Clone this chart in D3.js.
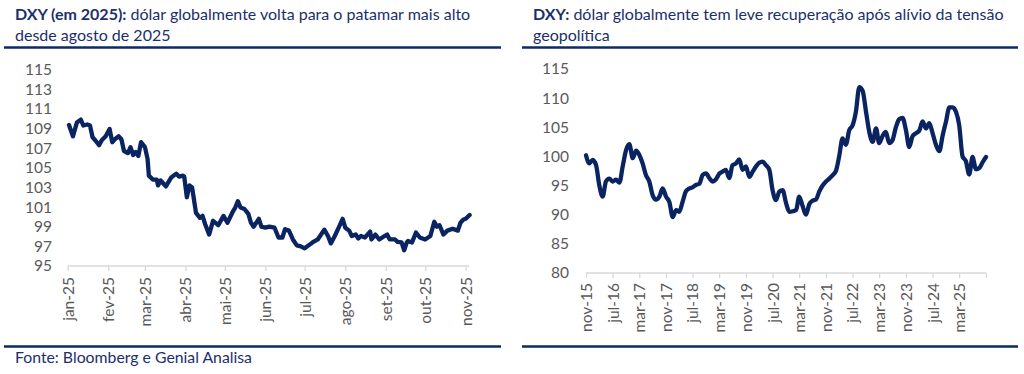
<!DOCTYPE html>
<html><head><meta charset="utf-8">
<script src="https://cdn.jsdelivr.net/npm/d3@7"></script>
<style>
html,body{margin:0;padding:0;background:#fff;}
svg{display:block;font-family:Lato,"Noto Sans",sans-serif;}
</style></head>
<body><svg id="c" width="1024" height="374"></svg>
<script>
// ---------- DATA ----------
const leftDates = ["2025-01-02","2025-01-05","2025-01-08","2025-01-11","2025-01-13","2025-01-16","2025-01-18","2025-01-20","2025-01-22","2025-01-25","2025-01-27","2025-01-30",
"2025-02-02","2025-02-04","2025-02-06","2025-02-09","2025-02-11","2025-02-13","2025-02-16","2025-02-18","2025-02-20","2025-02-22","2025-02-24","2025-02-26",
"2025-03-01","2025-03-03","2025-03-04","2025-03-07","2025-03-10","2025-03-11","2025-03-13","2025-03-17","2025-03-21","2025-03-25","2025-03-27","2025-03-30","2025-03-31",
"2025-04-02","2025-04-04","2025-04-06","2025-04-09","2025-04-12","2025-04-14","2025-04-16","2025-04-19","2025-04-22","2025-04-26","2025-04-30",
"2025-05-03","2025-05-07","2025-05-09","2025-05-11","2025-05-13","2025-05-16","2025-05-19","2025-05-21","2025-05-23","2025-05-27","2025-05-29",
"2025-06-01","2025-06-04","2025-06-08","2025-06-11","2025-06-14","2025-06-16","2025-06-19","2025-06-22","2025-06-25","2025-06-28",
"2025-07-01","2025-07-04","2025-07-07","2025-07-11","2025-07-15","2025-07-16","2025-07-19","2025-07-21","2025-07-24","2025-07-27","2025-07-30",
"2025-08-01","2025-08-04","2025-08-06","2025-08-09","2025-08-11","2025-08-13","2025-08-16","2025-08-20","2025-08-21","2025-08-24","2025-08-27","2025-08-31",
"2025-09-02","2025-09-04","2025-09-08","2025-09-10","2025-09-13","2025-09-15","2025-09-17","2025-09-18","2025-09-21","2025-09-24","2025-09-27",
"2025-10-01","2025-10-05","2025-10-08","2025-10-10","2025-10-12","2025-10-15","2025-10-18","2025-10-22","2025-10-26","2025-10-28","2025-10-30",
"2025-11-01","2025-11-04"];
const leftValues = [109.35,108.2,109.6,109.9,109.3,109.4,109.3,108.1,107.8,107.3,107.8,108.2,
108.95,107.6,107.9,108.2,107.9,106.7,106.5,107.1,106.3,106.6,106.2,107.6,
107.1,105.9,104.2,103.8,103.8,103.2,103.7,103.1,104.0,104.4,104.1,104.2,104.1,
102.0,103.2,103.0,100.4,99.9,100.1,99.25,98.2,99.6,99.15,100.1,
99.4,100.5,100.95,101.6,100.95,100.8,100.3,99.4,99.0,99.8,99.0,
98.9,99.0,98.9,97.9,97.9,98.75,98.6,97.7,97.1,97.0,
96.8,97.1,97.4,97.7,98.5,98.7,98.0,97.3,98.05,98.9,99.8,
98.9,98.6,98.05,98.2,97.8,98.05,97.9,98.5,97.7,98.2,97.7,98.05,
98.2,97.7,97.7,97.45,97.4,96.6,97.4,97.55,97.4,98.4,97.9,
97.7,98.05,99.5,99.0,99.15,98.2,98.6,98.8,98.6,99.4,99.7,
99.8,100.2];
const leftTickDates = ["2025-01-01","2025-02-01","2025-03-01","2025-04-01","2025-05-01","2025-06-01","2025-07-01","2025-08-01","2025-09-01","2025-10-01","2025-11-01"];
const leftTickLabels = ["jan-25","fev-25","mar-25","abr-25","mai-25","jun-25","jul-25","ago-25","set-25","out-25","nov-25"];
const leftYTicks = [95,97,99,101,103,105,107,109,111,113,115];

const rightStart = "2015-11-01"; // monthly series, first month nov-15
const rightValues = [100.2,98.8,99.4,98.5,95.1,93.1,95.7,96.2,95.7,96.0,95.5,98.3,
101.1,102.1,99.7,101.0,100.3,98.8,96.8,95.7,93.4,92.6,93.1,94.5,
93.1,92.2,89.6,90.8,90.5,92.2,94.0,94.5,94.7,95.1,95.3,96.8,
97.1,96.3,95.7,96.1,97.0,97.4,97.7,96.3,98.5,98.8,99.5,97.7,
98.3,96.5,97.4,98.3,98.9,99.1,98.5,97.7,94.2,92.5,94.0,94.2,
92.0,90.5,90.6,90.8,93.1,91.5,90.0,91.8,92.4,92.6,94.0,95.0,
95.7,96.2,96.8,97.6,100.0,103.1,102.0,104.5,105.3,107.7,111.9,111.3,
107.7,104.2,102.5,104.8,102.3,103.5,104.2,102.3,102.8,105.0,106.4,106.6,
104.5,101.6,103.5,104.0,104.4,106.0,104.8,105.7,104.0,102.0,100.9,103.6,
106.0,108.4,108.4,107.6,105.4,100.0,99.2,96.9,99.9,97.8,98.0,99.0,
99.9];
const rightTickDates = ["2015-11-01","2016-07-01","2017-03-01","2017-11-01","2018-07-01","2019-03-01","2019-11-01","2020-07-01","2021-03-01","2021-11-01","2022-07-01","2023-03-01","2023-11-01","2024-07-01","2025-03-01","2025-11-01"];
const rightTickLabels = ["nov-15","jul-16","mar-17","nov-17","jul-18","mar-19","nov-19","jul-20","mar-21","nov-21","jul-22","mar-23","nov-23","jul-24","mar-25",""];
const rightYTicks = [80,85,90,95,100,105,110,115];

const leftTitleBold = "DXY (em 2025):";
const leftTitleRest = " dólar globalmente volta para o patamar mais alto";
const leftTitleLine2 = "desde agosto de 2025";
const rightTitleBold = "DXY:";
const rightTitleRest = " dólar globalmente tem leve recuperação após alívio da tensão";
const rightTitleLine2 = "geopolítica";
const sourceText = "Fonte: Bloomberg e Genial Analisa";

// ---------- DRAW ----------
const parse = d3.utcParse("%Y-%m-%d");
const svg = d3.select("#c");
const NAVY = "#0b2a66", TITLE = "#1b2f6b", LINE = "#0a2461", GRAY = "#595959", AX = "#d9d9d9";

function panel(o){
  const g = svg.append("g");
  const t = g.append("text").attr("x", o.tx).attr("y", 20).attr("fill", TITLE).style("font-size","16px");
  t.append("tspan").attr("font-weight","bold").text(o.bold);
  t.append("tspan").text(o.rest);
  g.append("text").attr("x", o.tx).attr("y", 41).attr("fill", TITLE).style("font-size","16px").text(o.line2);
  g.append("line").attr("x1", o.r1).attr("x2", o.r2).attr("y1", 47.5).attr("y2", 47.5).attr("stroke", NAVY).attr("stroke-width", 2.4);
  g.append("line").attr("x1", o.r1).attr("x2", o.r2).attr("y1", 346.5).attr("y2", 346.5).attr("stroke", NAVY).attr("stroke-width", 2.4);

  const x = d3.scaleUtc().domain(o.xDomain).range(o.xRange);
  const y = d3.scaleLinear().domain(o.yDomain).range(o.yRange);

  const ya = g.append("g").attr("transform", `translate(${o.yLabelX},0)`)
    .call(d3.axisLeft(y).tickValues(o.yTicks).tickSize(0).tickPadding(0));
  ya.select(".domain").remove();
  ya.selectAll("text").attr("fill", GRAY).style("font-size","15.5px").style("font-family","Lato");

  const xa = g.append("g").attr("transform", `translate(0,${o.yRange[0]})`)
    .call(d3.axisBottom(x).tickValues(o.xTicks.map(parse)).tickSize(5)
      .tickFormat((d,i)=>o.xLabels[i]));
  xa.select(".domain").attr("stroke", AX).attr("stroke-width",1.3)
    .attr("d", `M${o.xRange[0]},0H${o.axisEnd}`);
  xa.selectAll(".tick line").attr("stroke", AX).attr("stroke-width",1.3);
  xa.selectAll("text").attr("fill", GRAY).style("font-size","15.5px").style("font-family","Lato")
    .attr("transform","rotate(-90)").attr("text-anchor","end")
    .attr("x", -o.labelGap).attr("y", 0).attr("dy","0.35em");

  g.append("path").datum(o.data)
    .attr("fill","none").attr("stroke", LINE).attr("stroke-width", 4.3)
    .attr("stroke-linejoin","round").attr("stroke-linecap","round")
    .attr("d", d3.line().x(d=>x(d[0])).y(d=>y(d[1])).curve(o.curve));
}

panel({
  tx: 15, bold: leftTitleBold, rest: leftTitleRest, line2: leftTitleLine2, r1: 4, r2: 501,
  xDomain: [parse("2025-01-01"), parse("2025-11-01")], xRange: [67.7, 465.7], axisEnd: 469,
  yDomain: [95,115], yRange: [266, 69.5], yTicks: leftYTicks, yLabelX: 52,
  xTicks: leftTickDates, xLabels: leftTickLabels, labelGap: 11,
  data: leftDates.map((d,i)=>[parse(d), leftValues[i]]), curve: d3.curveLinear
});

const rs = parse(rightStart);
panel({
  tx: 533, bold: rightTitleBold, rest: rightTitleRest, line2: rightTitleLine2, r1: 522, r2: 1018,
  xDomain: [parse("2015-11-01"), parse("2025-11-01")], xRange: [586, 986], axisEnd: 986,
  yDomain: [80,115], yRange: [273, 69], yTicks: rightYTicks, yLabelX: 569,
  xTicks: rightTickDates, xLabels: rightTickLabels, labelGap: 10,
  data: rightValues.map((v,i)=>[d3.utcMonth.offset(rs, i), v]), curve: d3.curveMonotoneX
});

svg.append("text").attr("x", 15).attr("y", 363).attr("fill", TITLE).style("font-size","15.8px").text(sourceText);
</script></body></html>
